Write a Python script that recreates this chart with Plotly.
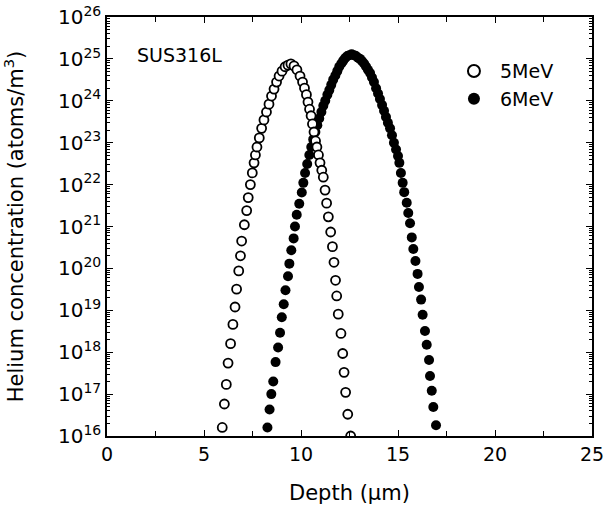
import plotly.graph_objects as go

# 5 MeV (open circles): depth (um), helium concentration (atoms/m^3)
depth_5mev = [5.94, 6.05, 6.15, 6.24, 6.37, 6.49, 6.60, 6.68, 6.79, 6.88, 6.94, 7.08, 7.20, 7.28,
              7.39, 7.49, 7.58, 7.65, 7.73, 7.85, 7.97, 8.09, 8.22, 8.35, 8.48, 8.61, 8.74, 8.87,
              9.02, 9.18, 9.33, 9.48, 9.64, 9.79, 9.95, 10.08, 10.18, 10.28, 10.36, 10.44, 10.52,
              10.59, 10.67, 10.75, 10.82, 10.90, 10.98, 11.07, 11.15, 11.24, 11.32, 11.41, 11.53,
              11.62, 11.70, 11.78, 11.84, 11.92, 12.06, 12.15, 12.22, 12.30, 12.41, 12.56]
conc_5mev = [1.6e16, 5.8e16, 1.7e17, 5.5e17, 1.6e18, 4.6e18, 1.2e19, 3.2e19, 8.7e19, 2.0e20,
             4.5e20, 1.1e21, 2.4e21, 4.9e21, 1.0e22, 1.9e22, 3.3e22, 5.1e22, 7.9e22, 1.3e23,
             2.2e23, 3.5e23, 5.4e23, 8.3e23, 1.3e24, 1.9e24, 2.8e24, 3.9e24, 5.1e24, 6.5e24,
             7.1e24, 7.6e24, 6.8e24, 5.5e24, 3.9e24, 2.8e24, 2.0e24, 1.4e24, 9.3e23, 6.3e23,
             4.4e23, 2.8e23, 1.8e23, 1.1e23, 7.9e22, 5.1e22, 3.3e22, 2.2e22, 1.5e22, 7.4e21,
             3.6e21, 1.7e21, 7.4e20, 3.3e20, 1.4e20, 5.2e19, 2.2e19, 8.1e18, 2.8e18, 9.3e17,
             3.3e17, 1.1e17, 3.3e16, 1.0e16]

# 6 MeV (filled circles)
depth_6mev = [8.27, 8.38, 8.47, 8.57, 8.69, 8.82, 8.92, 9.01, 9.11, 9.20, 9.33, 9.40, 9.50, 9.62,
              9.69, 9.78, 9.91, 10.04, 10.12, 10.21, 10.32, 10.43, 10.53, 10.63, 10.74, 10.84,
              10.94, 11.05, 11.15, 11.25, 11.36, 11.46, 11.56, 11.66, 11.77, 11.87, 11.97, 12.08,
              12.18, 12.28, 12.39, 12.50, 12.61, 12.73, 12.83, 12.94, 13.04, 13.14, 13.25, 13.35,
              13.45, 13.56, 13.66, 13.76, 13.87, 13.97, 14.07, 14.18, 14.28, 14.38, 14.48, 14.59,
              14.69, 14.79, 14.90, 15.00, 15.07, 15.15, 15.24, 15.32, 15.45, 15.53, 15.62, 15.71,
              15.79, 15.90, 16.01, 16.08, 16.19, 16.27, 16.39, 16.48, 16.60, 16.65, 16.74, 16.82,
              16.96]
conc_6mev = [1.6e16, 4.3e16, 1.0e17, 2.0e17, 5.8e17, 1.3e18, 2.9e18, 6.8e18, 1.4e19, 3.0e19,
             6.5e19, 1.3e20, 2.7e20, 5.2e20, 1.0e21, 1.9e21, 3.5e21, 6.5e21, 1.1e22, 1.9e22,
             3.1e22, 5.1e22, 7.9e22, 1.2e23, 1.8e23, 2.6e23, 3.8e23, 5.4e23, 7.6e23, 1.0e24,
             1.4e24, 1.8e24, 2.4e24, 3.2e24, 4.0e24, 5.1e24, 6.5e24, 7.8e24, 9.1e24, 1.05e25,
             1.17e25, 1.23e25, 1.29e25, 1.23e25, 1.17e25, 1.07e25, 1.0e25, 8.9e24, 7.8e24,
             6.6e24, 5.5e24, 4.6e24, 3.6e24, 2.8e24, 2.0e24, 1.5e24, 1.1e24, 7.9e23, 5.8e23,
             4.1e23, 3.0e23, 2.2e23, 1.5e23, 1.0e23, 6.9e22, 4.8e22, 3.3e22, 1.9e22, 1.1e22,
             6.6e21, 3.7e21, 2.1e21, 1.2e21, 5.5e20, 2.9e20, 1.5e20, 7.4e19, 3.6e19, 1.8e19,
             7.8e18, 3.2e18, 1.5e18, 6.5e17, 2.7e17, 1.2e17, 4.9e16, 1.8e16]

series_names = ["5MeV", "6MeV"]
x_ticks = [0, 5, 10, 15, 20, 25]
y_exponents = list(range(16, 27))

FONT = "DejaVu Sans"

fig = go.Figure()
fig.add_trace(go.Scatter(
    x=depth_6mev, y=conc_6mev, mode="markers", name=series_names[1],
    marker=dict(symbol="circle", size=10, color="black", line=dict(color="black", width=0)),
    legendrank=2,
))
fig.add_trace(go.Scatter(
    x=depth_5mev, y=conc_5mev, mode="markers", name=series_names[0],
    marker=dict(symbol="circle", size=9, color="white", line=dict(color="black", width=1.8)),
    legendrank=1,
))

fig.update_layout(
    width=604, height=512,
    margin=dict(l=107, r=12, t=17, b=76),
    paper_bgcolor="white", plot_bgcolor="white",
    font=dict(family=FONT, size=19, color="black"),
    showlegend=True,
    legend=dict(x=0.703, y=0.916, xanchor="left", yanchor="top",
                bgcolor="rgba(0,0,0,0)", font=dict(size=19, family=FONT),
                itemsizing="constant", itemwidth=42, tracegroupgap=0),
    annotations=[
        dict(text="SUS316L", x=0.058, y=0.909, xref="paper", yref="paper",
             xanchor="left", yanchor="middle", showarrow=False,
             font=dict(size=19, family=FONT)),
        dict(text="Depth (\u03bcm)", x=0.5, y=-0.136, xref="paper", yref="paper",
             xanchor="center", yanchor="middle", showarrow=False,
             font=dict(size=21, family=FONT)),
    ],
)
fig.update_xaxes(
    range=[0, 25], tickvals=x_ticks, ticktext=[str(v) for v in x_ticks],
    ticks="inside", ticklen=6, tickwidth=1, tickcolor="black",
    minor=dict(dtick=2.5, ticks="inside", ticklen=5, tickcolor="black", showgrid=False),
    showline=True, linecolor="black", linewidth=1.5, mirror="ticks",
    showgrid=False, zeroline=False, automargin=False, ticklabeloverflow="allow",
    tickfont=dict(size=19, family=FONT),
)
fig.update_yaxes(
    type="log", range=[16, 26],
    tickvals=[10.0 ** e for e in y_exponents],
    ticktext=["10<sup>%d</sup>" % e for e in y_exponents],
    ticks="inside", ticklen=6, tickwidth=1, tickcolor="black",
    minor=dict(ticks="inside", ticklen=3, tickcolor="black", showgrid=False, dtick="D1"),
    showline=True, linecolor="black", linewidth=1.5, mirror="ticks",
    showgrid=False, zeroline=False, automargin=False, ticklabeloverflow="allow",
    title=dict(text="Helium concentration (atoms/m<sup>3</sup>)", font=dict(size=21, family=FONT), standoff=30),
    tickfont=dict(size=20, family=FONT),
)

fig.write_html("out.html", config={"displayModeBar": False},
               post_script="document.body.style.margin='0px';")
